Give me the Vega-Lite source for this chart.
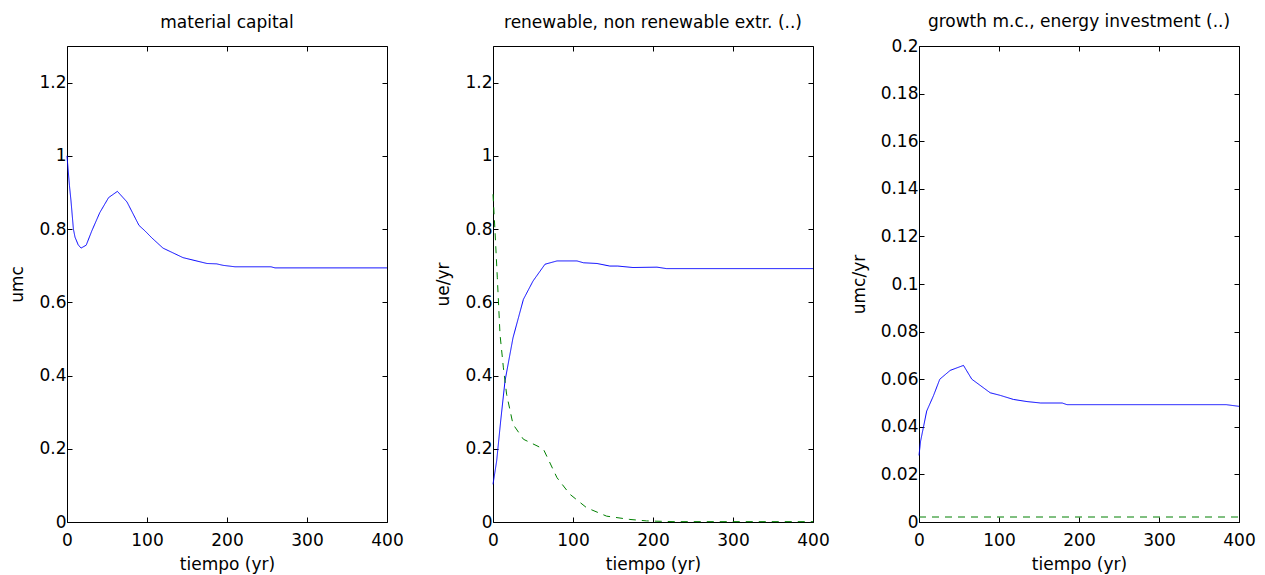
{
  "$schema": "https://vega.github.io/schema/vega-lite/v6.json",
  "padding": {"left": 8, "top": 13, "right": 5, "bottom": 5},
  "background": "white",
  "datasets": {
    "mc": [
      {"t": 0, "v": 1.0, "s": "a"}, {"t": 3, "v": 0.92, "s": "a"}, {"t": 5, "v": 0.877, "s": "a"},
      {"t": 8, "v": 0.8, "s": "a"}, {"t": 10, "v": 0.778, "s": "a"}, {"t": 14, "v": 0.757, "s": "a"},
      {"t": 17.5, "v": 0.748, "s": "a"}, {"t": 24, "v": 0.756, "s": "a"}, {"t": 31, "v": 0.795, "s": "a"},
      {"t": 41, "v": 0.845, "s": "a"}, {"t": 52, "v": 0.886, "s": "a"}, {"t": 63, "v": 0.903, "s": "a"},
      {"t": 75, "v": 0.874, "s": "a"}, {"t": 90, "v": 0.81, "s": "a"}, {"t": 97.5, "v": 0.795, "s": "a"},
      {"t": 106, "v": 0.776, "s": "a"}, {"t": 120, "v": 0.748, "s": "a"}, {"t": 145, "v": 0.722, "s": "a"},
      {"t": 175, "v": 0.706, "s": "a"}, {"t": 187, "v": 0.705, "s": "a"}, {"t": 195, "v": 0.701, "s": "a"},
      {"t": 210, "v": 0.697, "s": "a"}, {"t": 255, "v": 0.697, "s": "a"}, {"t": 260, "v": 0.694, "s": "a"},
      {"t": 400, "v": 0.694, "s": "a"}
    ],
    "ext": [
      {"t": 0, "v": 0.103, "s": "a"}, {"t": 4.6, "v": 0.167, "s": "a"}, {"t": 9.6, "v": 0.276, "s": "a"},
      {"t": 15, "v": 0.385, "s": "a"}, {"t": 25, "v": 0.503, "s": "a"}, {"t": 38, "v": 0.608, "s": "a"},
      {"t": 50, "v": 0.658, "s": "a"}, {"t": 65, "v": 0.704, "s": "a"}, {"t": 80, "v": 0.713, "s": "a"},
      {"t": 105, "v": 0.713, "s": "a"}, {"t": 113, "v": 0.708, "s": "a"}, {"t": 130, "v": 0.706, "s": "a"},
      {"t": 146, "v": 0.699, "s": "a"}, {"t": 156, "v": 0.699, "s": "a"}, {"t": 175, "v": 0.695, "s": "a"},
      {"t": 205, "v": 0.696, "s": "a"}, {"t": 217, "v": 0.692, "s": "a"}, {"t": 400, "v": 0.692, "s": "a"},
      {"t": 0, "v": 0.895, "s": "b"}, {"t": 2.5, "v": 0.795, "s": "b"}, {"t": 5.4, "v": 0.667, "s": "b"},
      {"t": 8.75, "v": 0.513, "s": "b"}, {"t": 13, "v": 0.421, "s": "b"}, {"t": 17, "v": 0.349, "s": "b"},
      {"t": 25, "v": 0.267, "s": "b"}, {"t": 38, "v": 0.226, "s": "b"}, {"t": 55, "v": 0.208, "s": "b"},
      {"t": 63, "v": 0.199, "s": "b"}, {"t": 80, "v": 0.121, "s": "b"}, {"t": 96, "v": 0.076, "s": "b"},
      {"t": 117, "v": 0.039, "s": "b"}, {"t": 142, "v": 0.016, "s": "b"}, {"t": 171, "v": 0.007, "s": "b"},
      {"t": 192, "v": 0.003, "s": "b"}, {"t": 225, "v": 0.001, "s": "b"}, {"t": 400, "v": 0.001, "s": "b"}
    ],
    "growth": [
      {"t": 0, "v": 0.028, "s": "a"}, {"t": 2, "v": 0.034, "s": "a"}, {"t": 5.4, "v": 0.0396, "s": "a"},
      {"t": 9.6, "v": 0.0466, "s": "a"}, {"t": 18, "v": 0.053, "s": "a"}, {"t": 26, "v": 0.06, "s": "a"},
      {"t": 39, "v": 0.0637, "s": "a"}, {"t": 55.6, "v": 0.0658, "s": "a"}, {"t": 66, "v": 0.06, "s": "a"},
      {"t": 89, "v": 0.0543, "s": "a"}, {"t": 101.6, "v": 0.0532, "s": "a"}, {"t": 118, "v": 0.0515, "s": "a"},
      {"t": 135, "v": 0.0506, "s": "a"}, {"t": 152, "v": 0.05, "s": "a"}, {"t": 179, "v": 0.05, "s": "a"},
      {"t": 185, "v": 0.0493, "s": "a"}, {"t": 384, "v": 0.0493, "s": "a"}, {"t": 400, "v": 0.0486, "s": "a"},
      {"t": 0, "v": 0.0021, "s": "b"}, {"t": 100, "v": 0.0021, "s": "b"}, {"t": 200, "v": 0.0021, "s": "b"},
      {"t": 300, "v": 0.0021, "s": "b"}, {"t": 400, "v": 0.0021, "s": "b"}
    ]
  },
  "hconcat": [
    {
      "width": 320, "height": 476,
      "title": {"text": "material capital"},
      "data": {"name": "mc"},
      "layer": [
        {
          "mark": {"type": "line", "strokeWidth": 1},
          "encoding": {
            "x": {"field": "t", "type": "quantitative", "scale": {"domain": [0, 400], "nice": false}, "axis": {"orient": "bottom", "values": [0, 100, 200, 300, 400], "title": "tiempo (yr)"}},
            "y": {"field": "v", "type": "quantitative", "scale": {"domain": [0, 1.3], "nice": false, "zero": true}, "axis": {"orient": "left", "values": [0, 0.2, 0.4, 0.6, 0.8, 1, 1.2], "format": "~g", "title": "umc"}},
            "color": {"field": "s", "type": "nominal", "scale": {"domain": ["a", "b"], "range": ["#0000ff", "#008000"]}, "legend": null},
            "strokeDash": {"field": "s", "type": "nominal", "scale": {"domain": ["a", "b"], "range": [[1, 0], [7, 6]]}, "legend": null}
          }
        },
        {
          "mark": {"type": "line", "opacity": 0},
          "encoding": {
            "x": {"field": "t", "type": "quantitative", "axis": {"orient": "top", "values": [0, 100, 200, 300, 400], "labels": false, "title": null}},
            "y": {"field": "v", "type": "quantitative", "axis": {"orient": "right", "values": [0, 0.2, 0.4, 0.6, 0.8, 1, 1.2], "labels": false, "title": null}}
          }
        }
      ],
      "resolve": {"axis": {"x": "independent", "y": "independent"}}
    },
    {
      "width": 320, "height": 476,
      "title": {"text": "renewable, non renewable extr. (..)"},
      "data": {"name": "ext"},
      "layer": [
        {
          "mark": {"type": "line", "strokeWidth": 1},
          "encoding": {
            "x": {"field": "t", "type": "quantitative", "scale": {"domain": [0, 400], "nice": false}, "axis": {"orient": "bottom", "values": [0, 100, 200, 300, 400], "title": "tiempo (yr)"}},
            "y": {"field": "v", "type": "quantitative", "scale": {"domain": [0, 1.3], "nice": false, "zero": true}, "axis": {"orient": "left", "values": [0, 0.2, 0.4, 0.6, 0.8, 1, 1.2], "format": "~g", "title": "ue/yr"}},
            "color": {"field": "s", "type": "nominal", "scale": {"domain": ["a", "b"], "range": ["#0000ff", "#008000"]}, "legend": null},
            "strokeDash": {"field": "s", "type": "nominal", "scale": {"domain": ["a", "b"], "range": [[1, 0], [7, 6]]}, "legend": null}
          }
        },
        {
          "mark": {"type": "line", "opacity": 0},
          "encoding": {
            "x": {"field": "t", "type": "quantitative", "axis": {"orient": "top", "values": [0, 100, 200, 300, 400], "labels": false, "title": null}},
            "y": {"field": "v", "type": "quantitative", "axis": {"orient": "right", "values": [0, 0.2, 0.4, 0.6, 0.8, 1, 1.2], "labels": false, "title": null}}
          }
        }
      ],
      "resolve": {"axis": {"x": "independent", "y": "independent"}}
    },
    {
      "width": 320, "height": 476,
      "title": {"text": "growth m.c., energy investment (..)", "dy": 8},
      "data": {"name": "growth"},
      "layer": [
        {
          "mark": {"type": "line", "strokeWidth": 1},
          "encoding": {
            "x": {"field": "t", "type": "quantitative", "scale": {"domain": [0, 400], "nice": false}, "axis": {"orient": "bottom", "values": [0, 100, 200, 300, 400], "title": "tiempo (yr)"}},
            "y": {"field": "v", "type": "quantitative", "scale": {"domain": [0, 0.2], "nice": false, "zero": true}, "axis": {"orient": "left", "values": [0, 0.02, 0.04, 0.06, 0.08, 0.1, 0.12, 0.14, 0.16, 0.18, 0.2], "format": "~g", "title": "umc/yr"}},
            "color": {"field": "s", "type": "nominal", "scale": {"domain": ["a", "b"], "range": ["#0000ff", "#008000"]}, "legend": null},
            "strokeDash": {"field": "s", "type": "nominal", "scale": {"domain": ["a", "b"], "range": [[1, 0], [7, 6]]}, "legend": null}
          }
        },
        {
          "mark": {"type": "line", "opacity": 0},
          "encoding": {
            "x": {"field": "t", "type": "quantitative", "axis": {"orient": "top", "values": [0, 100, 200, 300, 400], "labels": false, "title": null}},
            "y": {"field": "v", "type": "quantitative", "axis": {"orient": "right", "values": [0, 0.02, 0.04, 0.06, 0.08, 0.1, 0.12, 0.14, 0.16, 0.18, 0.2], "labels": false, "title": null}}
          }
        }
      ],
      "resolve": {"axis": {"x": "independent", "y": "independent"}}
    }
  ],
  "spacing": 106,
  "bounds": "flush",
  "config": {
    "view": {"stroke": null},
    "font": "DejaVu Sans",
    "title": {"font": "DejaVu Sans", "fontSize": 17, "fontWeight": "normal", "color": "black", "offset": 14, "anchor": "middle", "frame": "group"},
    "axis": {
      "grid": false,
      "domainColor": "black",
      "domainWidth": 1,
      "tickColor": "black",
      "tickSize": -5,
      "tickWidth": 1,
      "labelFont": "DejaVu Sans",
      "labelFontSize": 17,
      "labelColor": "black",
      "labelFlush": false,
      "labelOverlap": false,
      "titleFont": "DejaVu Sans",
      "titleFontSize": 17,
      "titleFontWeight": "normal",
      "titleColor": "black"
    },
    "axisX": {"labelPadding": 15, "titlePadding": 8},
    "axisY": {"labelPadding": 6, "titlePadding": 12}
  }
}
